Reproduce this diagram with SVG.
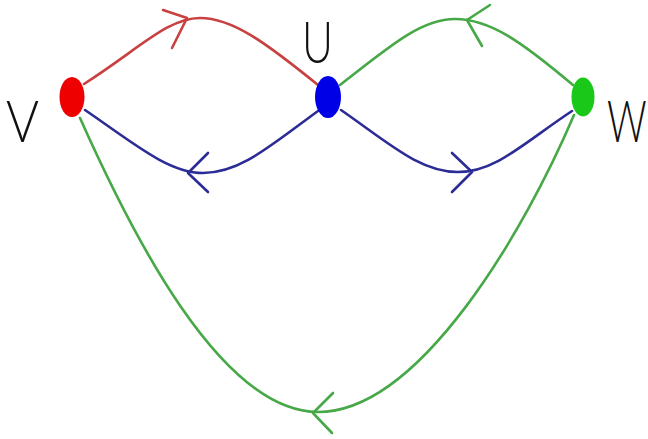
<svg xmlns="http://www.w3.org/2000/svg" xmlns:xlink="http://www.w3.org/1999/xlink" width="648" height="439" viewBox="0 0 648 439">
  <style>
    .edge { fill: none; stroke-width: 2.6; stroke-linecap: round; stroke-linejoin: round; }
    .red { stroke: #c84040; }
    .blue { stroke: #2c2c96; }
    .green { stroke: #46a846; }
    .lbl { font-family: Lato, "Liberation Sans", sans-serif; font-weight: 300; font-size: 57px; fill: #111; }
  </style>
  <rect width="648" height="439" fill="#ffffff"/>
  <g id="connectors">
    <!-- V -> U (red, top) -->
    <path class="edge red" d="M 84 84 C 140 48 168 18 200 18 C 232 18 265 42 318 85"/>
    <polyline class="edge red" points="163,10 187,18 172,48"/>
    <!-- W -> U (green, top) -->
    <path class="edge green" d="M 340 85 C 392 44 422 19 455 19 C 490 19 522 42 573 85"/>
    <polyline class="edge green" points="490,5 467,20 482,46"/>
    <!-- U -> V (blue, bottom left) -->
    <path class="edge blue" d="M 318 111 C 270 146 240 173 203 173 C 168 173 132 142 85 110"/>
    <polyline class="edge blue" points="208,153 188,173 208,192"/>
    <!-- U -> W (blue, bottom right) -->
    <path class="edge blue" d="M 341 110 C 390 144 420 172 458 172 C 496 172 525 142 572 111"/>
    <polyline class="edge blue" points="452,153 472,172 452,192"/>
    <!-- W -> V (green, bottom) -->
    <path class="edge green" d="M 80 118 C 130 230 220 412 318 412 C 420 412 525 230 574 115"/>
    <polyline class="edge green" points="333,393 313,413 332,433"/>
  </g>
  <g id="node-V">
    <ellipse cx="72" cy="97" rx="12.5" ry="20" fill="#ee0000"/>
    <text class="lbl" x="6" y="142" textLength="33" lengthAdjust="spacingAndGlyphs">V</text>
  </g>
  <g id="node-U">
    <ellipse cx="328" cy="97" rx="13" ry="21" fill="#0000e6"/>
    <text class="lbl" x="302" y="63" textLength="31" lengthAdjust="spacingAndGlyphs">U</text>
  </g>
  <g id="node-W">
    <ellipse cx="583" cy="97" rx="11.5" ry="19.5" fill="#19c819"/>
    <text class="lbl" transform="translate(607,142) scale(1,1.45)" x="0" y="0" style="font-size:39px">W</text>
  </g>
</svg>
